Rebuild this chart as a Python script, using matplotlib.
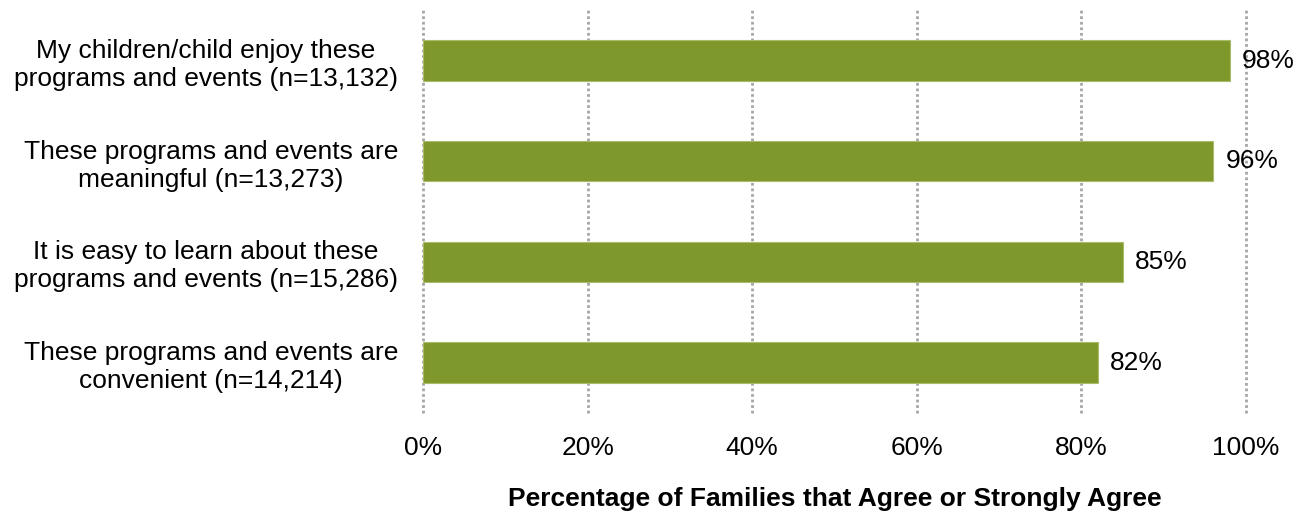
import matplotlib.pyplot as plt

plt.rcParams['font.family'] = ['Liberation Sans', 'DejaVu Sans']

labels = ['My children/child enjoy these\nprograms and events (n=13,132)',
          'These programs and events are\nmeaningful (n=13,273)',
          'It is easy to learn about these\nprograms and events (n=15,286)',
          'These programs and events are\nconvenient (n=14,214)']
values = [98, 96, 85, 82]
ticks = [0, 20, 40, 60, 80, 100]

fig = plt.figure(figsize=(12.95, 5.11), dpi=100)
ax = fig.add_axes([0.3266, 0.192, 0.6356, 0.788])

pos = list(range(len(values)))
ax.barh(pos, values, height=0.4, color='#7F982B', edgecolor='#A9BC6A', linewidth=0.8, zorder=3)
for p, v in zip(pos, values):
    ax.text(v + 1.5, p, f'{v}%', va='center', ha='left', fontsize=19, zorder=4)

ax.set_ylim(3.5, -0.5)
ax.set_xlim(0, 100)
ax.set_yticks(pos)
ax.set_yticklabels(labels, fontsize=19, ha='right', multialignment='center', linespacing=1.2)
ax.tick_params(axis='y', length=0, pad=18)
ax.set_xticks(ticks)
ax.set_xticklabels([f'{t}%' for t in ticks], fontsize=19)
ax.tick_params(axis='x', length=0, pad=17)
ax.xaxis.grid(True, linestyle=(0, (1, 1)), color='#A6A6A6', linewidth=2, zorder=0)
for line in ax.get_xgridlines():
    line.set_clip_on(False)
for s in ax.spines.values():
    s.set_visible(False)
ax.set_xlabel('Percentage of Families that Agree or Strongly Agree', fontsize=19,
              fontweight='bold', labelpad=19)

fig.savefig('out.png', dpi=100)
